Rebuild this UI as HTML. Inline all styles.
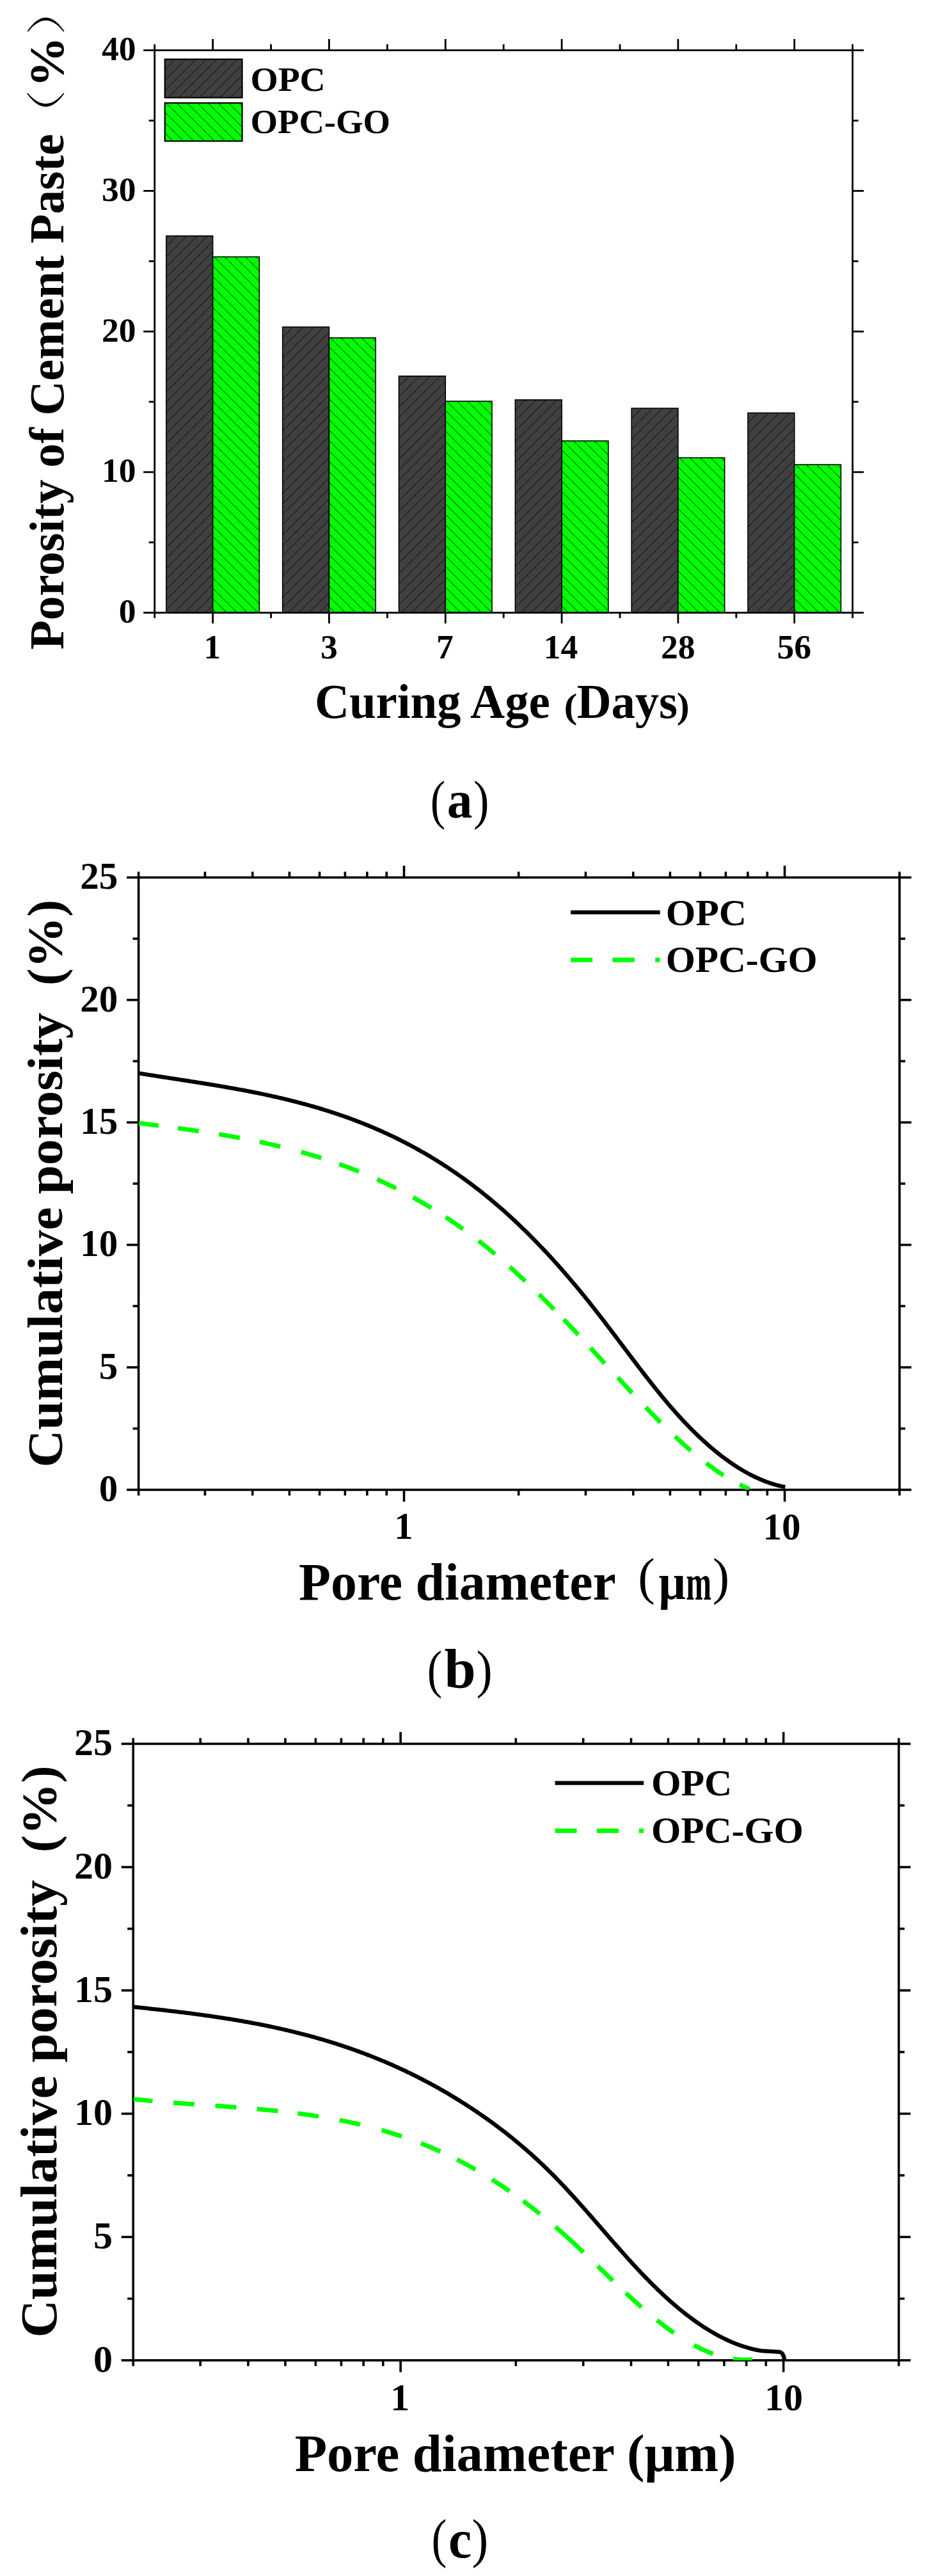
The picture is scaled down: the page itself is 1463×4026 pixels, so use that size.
<!DOCTYPE html>
<html><head><meta charset="utf-8"><title>Porosity charts</title>
<style>html,body{margin:0;padding:0;background:#fff;}body{width:1463px;height:4026px;overflow:hidden;font-family:"Liberation Serif",serif;}svg{display:block;}</style>
</head><body>
<svg width="1463" height="4026" viewBox="0 0 1463 4026" font-family="'Liberation Serif', serif">
<rect width="1463" height="4026" fill="#fff"/>
<clipPath id="c1"><rect x="259.88" y="368.67" width="72.73" height="588.93"/></clipPath>
<rect x="259.88" y="368.67" width="72.73" height="588.93" fill="#404040"/>
<path d="M259.88 368.67L-329.05 957.6 M276.13 368.67L-312.8 957.6 M292.38 368.67L-296.55 957.6 M308.63 368.67L-280.3 957.6 M324.88 368.67L-264.05 957.6 M341.13 368.67L-247.8 957.6 M357.38 368.67L-231.55 957.6 M373.63 368.67L-215.3 957.6 M389.88 368.67L-199.05 957.6 M406.13 368.67L-182.8 957.6 M422.38 368.67L-166.55 957.6 M438.63 368.67L-150.3 957.6 M454.88 368.67L-134.05 957.6 M471.13 368.67L-117.8 957.6 M487.38 368.67L-101.55 957.6 M503.63 368.67L-85.3 957.6 M519.88 368.67L-69.05 957.6 M536.13 368.67L-52.8 957.6 M552.38 368.67L-36.55 957.6 M568.63 368.67L-20.3 957.6 M584.88 368.67L-4.05 957.6 M601.13 368.67L12.2 957.6 M617.38 368.67L28.45 957.6 M633.63 368.67L44.7 957.6 M649.88 368.67L60.95 957.6 M666.13 368.67L77.2 957.6 M682.38 368.67L93.45 957.6 M698.63 368.67L109.7 957.6 M714.88 368.67L125.95 957.6 M731.13 368.67L142.2 957.6 M747.38 368.67L158.45 957.6 M763.63 368.67L174.7 957.6 M779.88 368.67L190.95 957.6 M796.13 368.67L207.2 957.6 M812.38 368.67L223.45 957.6 M828.63 368.67L239.7 957.6 M844.88 368.67L255.95 957.6 M861.13 368.67L272.2 957.6 M877.38 368.67L288.45 957.6 M893.63 368.67L304.7 957.6 M909.88 368.67L320.95 957.6" stroke="#000" stroke-width="0.9" clip-path="url(#c1)" fill="none"/>
<rect x="259.88" y="368.67" width="72.73" height="588.93" fill="none" stroke="#000" stroke-width="1.6"/>
<clipPath id="c2"><rect x="332.61" y="401.41" width="72.73" height="556.19"/></clipPath>
<rect x="332.61" y="401.41" width="72.73" height="556.19" fill="#00ff00"/>
<path d="M-217.89 401.41L338.3 957.6 M-201.64 401.41L354.55 957.6 M-185.39 401.41L370.8 957.6 M-169.14 401.41L387.05 957.6 M-152.89 401.41L403.3 957.6 M-136.64 401.41L419.55 957.6 M-120.39 401.41L435.8 957.6 M-104.14 401.41L452.05 957.6 M-87.89 401.41L468.3 957.6 M-71.64 401.41L484.55 957.6 M-55.39 401.41L500.8 957.6 M-39.14 401.41L517.05 957.6 M-22.89 401.41L533.3 957.6 M-6.64 401.41L549.55 957.6 M9.61 401.41L565.8 957.6 M25.86 401.41L582.05 957.6 M42.11 401.41L598.3 957.6 M58.36 401.41L614.55 957.6 M74.61 401.41L630.8 957.6 M90.86 401.41L647.05 957.6 M107.11 401.41L663.3 957.6 M123.36 401.41L679.55 957.6 M139.61 401.41L695.8 957.6 M155.86 401.41L712.05 957.6 M172.11 401.41L728.3 957.6 M188.36 401.41L744.55 957.6 M204.61 401.41L760.8 957.6 M220.86 401.41L777.05 957.6 M237.11 401.41L793.3 957.6 M253.36 401.41L809.55 957.6 M269.61 401.41L825.8 957.6 M285.86 401.41L842.05 957.6 M302.11 401.41L858.3 957.6 M318.36 401.41L874.55 957.6 M334.61 401.41L890.8 957.6 M350.86 401.41L907.05 957.6 M367.11 401.41L923.3 957.6 M383.36 401.41L939.55 957.6 M399.61 401.41L955.8 957.6" stroke="#000" stroke-width="0.9" clip-path="url(#c2)" fill="none"/>
<rect x="332.61" y="401.41" width="72.73" height="556.19" fill="none" stroke="#000" stroke-width="1.6"/>
<clipPath id="c3"><rect x="441.7" y="511.07" width="72.73" height="446.53"/></clipPath>
<rect x="441.7" y="511.07" width="72.73" height="446.53" fill="#404040"/>
<path d="M441.7 511.07L-4.83 957.6 M457.95 511.07L11.42 957.6 M474.2 511.07L27.67 957.6 M490.45 511.07L43.92 957.6 M506.7 511.07L60.17 957.6 M522.95 511.07L76.42 957.6 M539.2 511.07L92.67 957.6 M555.45 511.07L108.92 957.6 M571.7 511.07L125.17 957.6 M587.95 511.07L141.42 957.6 M604.2 511.07L157.67 957.6 M620.45 511.07L173.92 957.6 M636.7 511.07L190.17 957.6 M652.95 511.07L206.42 957.6 M669.2 511.07L222.67 957.6 M685.45 511.07L238.92 957.6 M701.7 511.07L255.17 957.6 M717.95 511.07L271.42 957.6 M734.2 511.07L287.67 957.6 M750.45 511.07L303.92 957.6 M766.7 511.07L320.17 957.6 M782.95 511.07L336.42 957.6 M799.2 511.07L352.67 957.6 M815.45 511.07L368.92 957.6 M831.7 511.07L385.17 957.6 M847.95 511.07L401.42 957.6 M864.2 511.07L417.67 957.6 M880.45 511.07L433.92 957.6 M896.7 511.07L450.17 957.6 M912.95 511.07L466.42 957.6 M929.2 511.07L482.67 957.6 M945.45 511.07L498.92 957.6 M961.7 511.07L515.17 957.6" stroke="#000" stroke-width="0.9" clip-path="url(#c3)" fill="none"/>
<rect x="441.7" y="511.07" width="72.73" height="446.53" fill="none" stroke="#000" stroke-width="1.6"/>
<clipPath id="c4"><rect x="514.42" y="527.99" width="72.73" height="429.61"/></clipPath>
<rect x="514.42" y="527.99" width="72.73" height="429.61" fill="#00ff00"/>
<path d="M93.92 527.99L523.54 957.6 M110.17 527.99L539.79 957.6 M126.42 527.99L556.04 957.6 M142.67 527.99L572.29 957.6 M158.92 527.99L588.54 957.6 M175.17 527.99L604.79 957.6 M191.42 527.99L621.04 957.6 M207.67 527.99L637.29 957.6 M223.92 527.99L653.54 957.6 M240.17 527.99L669.79 957.6 M256.42 527.99L686.04 957.6 M272.67 527.99L702.29 957.6 M288.92 527.99L718.54 957.6 M305.17 527.99L734.79 957.6 M321.42 527.99L751.04 957.6 M337.67 527.99L767.29 957.6 M353.92 527.99L783.54 957.6 M370.17 527.99L799.79 957.6 M386.42 527.99L816.04 957.6 M402.67 527.99L832.29 957.6 M418.92 527.99L848.54 957.6 M435.17 527.99L864.79 957.6 M451.42 527.99L881.04 957.6 M467.67 527.99L897.29 957.6 M483.92 527.99L913.54 957.6 M500.17 527.99L929.79 957.6 M516.42 527.99L946.04 957.6 M532.67 527.99L962.29 957.6 M548.92 527.99L978.54 957.6 M565.17 527.99L994.79 957.6 M581.42 527.99L1011.04 957.6" stroke="#000" stroke-width="0.9" clip-path="url(#c4)" fill="none"/>
<rect x="514.42" y="527.99" width="72.73" height="429.61" fill="none" stroke="#000" stroke-width="1.6"/>
<clipPath id="c5"><rect x="623.51" y="587.76" width="72.73" height="369.84"/></clipPath>
<rect x="623.51" y="587.76" width="72.73" height="369.84" fill="#404040"/>
<path d="M623.51 587.76L253.68 957.6 M639.76 587.76L269.93 957.6 M656.01 587.76L286.18 957.6 M672.26 587.76L302.43 957.6 M688.51 587.76L318.68 957.6 M704.76 587.76L334.93 957.6 M721.01 587.76L351.18 957.6 M737.26 587.76L367.43 957.6 M753.51 587.76L383.68 957.6 M769.76 587.76L399.93 957.6 M786.01 587.76L416.18 957.6 M802.26 587.76L432.43 957.6 M818.51 587.76L448.68 957.6 M834.76 587.76L464.93 957.6 M851.01 587.76L481.18 957.6 M867.26 587.76L497.43 957.6 M883.51 587.76L513.68 957.6 M899.76 587.76L529.93 957.6 M916.01 587.76L546.18 957.6 M932.26 587.76L562.43 957.6 M948.51 587.76L578.68 957.6 M964.76 587.76L594.93 957.6 M981.01 587.76L611.18 957.6 M997.26 587.76L627.43 957.6 M1013.51 587.76L643.68 957.6 M1029.76 587.76L659.93 957.6 M1046.01 587.76L676.18 957.6 M1062.26 587.76L692.43 957.6" stroke="#000" stroke-width="0.9" clip-path="url(#c5)" fill="none"/>
<rect x="623.51" y="587.76" width="72.73" height="369.84" fill="none" stroke="#000" stroke-width="1.6"/>
<clipPath id="c6"><rect x="696.24" y="627.1" width="72.73" height="330.5"/></clipPath>
<rect x="696.24" y="627.1" width="72.73" height="330.5" fill="#00ff00"/>
<path d="M373.24 627.1L703.75 957.6 M389.49 627.1L720 957.6 M405.74 627.1L736.25 957.6 M421.99 627.1L752.5 957.6 M438.24 627.1L768.75 957.6 M454.49 627.1L785 957.6 M470.74 627.1L801.25 957.6 M486.99 627.1L817.5 957.6 M503.24 627.1L833.75 957.6 M519.49 627.1L850 957.6 M535.74 627.1L866.25 957.6 M551.99 627.1L882.5 957.6 M568.24 627.1L898.75 957.6 M584.49 627.1L915 957.6 M600.74 627.1L931.25 957.6 M616.99 627.1L947.5 957.6 M633.24 627.1L963.75 957.6 M649.49 627.1L980 957.6 M665.74 627.1L996.25 957.6 M681.99 627.1L1012.5 957.6 M698.24 627.1L1028.75 957.6 M714.49 627.1L1045 957.6 M730.74 627.1L1061.25 957.6 M746.99 627.1L1077.5 957.6 M763.24 627.1L1093.75 957.6" stroke="#000" stroke-width="0.9" clip-path="url(#c6)" fill="none"/>
<rect x="696.24" y="627.1" width="72.73" height="330.5" fill="none" stroke="#000" stroke-width="1.6"/>
<clipPath id="c7"><rect x="805.33" y="624.9" width="72.73" height="332.7"/></clipPath>
<rect x="805.33" y="624.9" width="72.73" height="332.7" fill="#404040"/>
<path d="M805.33 624.9L472.63 957.6 M821.58 624.9L488.88 957.6 M837.83 624.9L505.13 957.6 M854.08 624.9L521.38 957.6 M870.33 624.9L537.63 957.6 M886.58 624.9L553.88 957.6 M902.83 624.9L570.13 957.6 M919.08 624.9L586.38 957.6 M935.33 624.9L602.63 957.6 M951.58 624.9L618.88 957.6 M967.83 624.9L635.13 957.6 M984.08 624.9L651.38 957.6 M1000.33 624.9L667.63 957.6 M1016.58 624.9L683.88 957.6 M1032.83 624.9L700.13 957.6 M1049.08 624.9L716.38 957.6 M1065.33 624.9L732.63 957.6 M1081.58 624.9L748.88 957.6 M1097.83 624.9L765.13 957.6 M1114.08 624.9L781.38 957.6 M1130.33 624.9L797.63 957.6 M1146.58 624.9L813.88 957.6 M1162.83 624.9L830.13 957.6 M1179.08 624.9L846.38 957.6 M1195.33 624.9L862.63 957.6 M1211.58 624.9L878.88 957.6" stroke="#000" stroke-width="0.9" clip-path="url(#c7)" fill="none"/>
<rect x="805.33" y="624.9" width="72.73" height="332.7" fill="none" stroke="#000" stroke-width="1.6"/>
<clipPath id="c8"><rect x="878.06" y="689.07" width="72.73" height="268.53"/></clipPath>
<rect x="878.06" y="689.07" width="72.73" height="268.53" fill="#00ff00"/>
<path d="M620.06 689.07L888.59 957.6 M636.31 689.07L904.84 957.6 M652.56 689.07L921.09 957.6 M668.81 689.07L937.34 957.6 M685.06 689.07L953.59 957.6 M701.31 689.07L969.84 957.6 M717.56 689.07L986.09 957.6 M733.81 689.07L1002.34 957.6 M750.06 689.07L1018.59 957.6 M766.31 689.07L1034.84 957.6 M782.56 689.07L1051.09 957.6 M798.81 689.07L1067.34 957.6 M815.06 689.07L1083.59 957.6 M831.31 689.07L1099.84 957.6 M847.56 689.07L1116.09 957.6 M863.81 689.07L1132.34 957.6 M880.06 689.07L1148.59 957.6 M896.31 689.07L1164.84 957.6 M912.56 689.07L1181.09 957.6 M928.81 689.07L1197.34 957.6 M945.06 689.07L1213.59 957.6" stroke="#000" stroke-width="0.9" clip-path="url(#c8)" fill="none"/>
<rect x="878.06" y="689.07" width="72.73" height="268.53" fill="none" stroke="#000" stroke-width="1.6"/>
<clipPath id="c9"><rect x="987.15" y="638.08" width="72.73" height="319.52"/></clipPath>
<rect x="987.15" y="638.08" width="72.73" height="319.52" fill="#404040"/>
<path d="M987.15 638.08L667.63 957.6 M1003.4 638.08L683.88 957.6 M1019.65 638.08L700.13 957.6 M1035.9 638.08L716.38 957.6 M1052.15 638.08L732.63 957.6 M1068.4 638.08L748.88 957.6 M1084.65 638.08L765.13 957.6 M1100.9 638.08L781.38 957.6 M1117.15 638.08L797.63 957.6 M1133.4 638.08L813.88 957.6 M1149.65 638.08L830.13 957.6 M1165.9 638.08L846.38 957.6 M1182.15 638.08L862.63 957.6 M1198.4 638.08L878.88 957.6 M1214.65 638.08L895.13 957.6 M1230.9 638.08L911.38 957.6 M1247.15 638.08L927.63 957.6 M1263.4 638.08L943.88 957.6 M1279.65 638.08L960.13 957.6 M1295.9 638.08L976.38 957.6 M1312.15 638.08L992.63 957.6 M1328.4 638.08L1008.88 957.6 M1344.65 638.08L1025.13 957.6 M1360.9 638.08L1041.38 957.6 M1377.15 638.08L1057.63 957.6" stroke="#000" stroke-width="0.9" clip-path="url(#c9)" fill="none"/>
<rect x="987.15" y="638.08" width="72.73" height="319.52" fill="none" stroke="#000" stroke-width="1.6"/>
<clipPath id="c10"><rect x="1059.87" y="715.44" width="72.73" height="242.16"/></clipPath>
<rect x="1059.87" y="715.44" width="72.73" height="242.16" fill="#00ff00"/>
<path d="M818.12 715.44L1060.29 957.6 M834.37 715.44L1076.54 957.6 M850.62 715.44L1092.79 957.6 M866.87 715.44L1109.04 957.6 M883.12 715.44L1125.29 957.6 M899.37 715.44L1141.54 957.6 M915.62 715.44L1157.79 957.6 M931.87 715.44L1174.04 957.6 M948.12 715.44L1190.29 957.6 M964.37 715.44L1206.54 957.6 M980.62 715.44L1222.79 957.6 M996.87 715.44L1239.04 957.6 M1013.12 715.44L1255.29 957.6 M1029.37 715.44L1271.54 957.6 M1045.62 715.44L1287.79 957.6 M1061.87 715.44L1304.04 957.6 M1078.12 715.44L1320.29 957.6 M1094.37 715.44L1336.54 957.6 M1110.62 715.44L1352.79 957.6 M1126.87 715.44L1369.04 957.6" stroke="#000" stroke-width="0.9" clip-path="url(#c10)" fill="none"/>
<rect x="1059.87" y="715.44" width="72.73" height="242.16" fill="none" stroke="#000" stroke-width="1.6"/>
<clipPath id="c11"><rect x="1168.96" y="645.34" width="72.73" height="312.26"/></clipPath>
<rect x="1168.96" y="645.34" width="72.73" height="312.26" fill="#404040"/>
<path d="M1168.96 645.34L856.7 957.6 M1185.21 645.34L872.95 957.6 M1201.46 645.34L889.2 957.6 M1217.71 645.34L905.45 957.6 M1233.96 645.34L921.7 957.6 M1250.21 645.34L937.95 957.6 M1266.46 645.34L954.2 957.6 M1282.71 645.34L970.45 957.6 M1298.96 645.34L986.7 957.6 M1315.21 645.34L1002.95 957.6 M1331.46 645.34L1019.2 957.6 M1347.71 645.34L1035.45 957.6 M1363.96 645.34L1051.7 957.6 M1380.21 645.34L1067.95 957.6 M1396.46 645.34L1084.2 957.6 M1412.71 645.34L1100.45 957.6 M1428.96 645.34L1116.7 957.6 M1445.21 645.34L1132.95 957.6 M1461.46 645.34L1149.2 957.6 M1477.71 645.34L1165.45 957.6 M1493.96 645.34L1181.7 957.6 M1510.21 645.34L1197.95 957.6 M1526.46 645.34L1214.2 957.6 M1542.71 645.34L1230.45 957.6" stroke="#000" stroke-width="0.9" clip-path="url(#c11)" fill="none"/>
<rect x="1168.96" y="645.34" width="72.73" height="312.26" fill="none" stroke="#000" stroke-width="1.6"/>
<clipPath id="c12"><rect x="1241.69" y="726.2" width="72.73" height="231.4"/></clipPath>
<rect x="1241.69" y="726.2" width="72.73" height="231.4" fill="#00ff00"/>
<path d="M1016.19 726.2L1247.59 957.6 M1032.44 726.2L1263.84 957.6 M1048.69 726.2L1280.09 957.6 M1064.94 726.2L1296.34 957.6 M1081.19 726.2L1312.59 957.6 M1097.44 726.2L1328.84 957.6 M1113.69 726.2L1345.09 957.6 M1129.94 726.2L1361.34 957.6 M1146.19 726.2L1377.59 957.6 M1162.44 726.2L1393.84 957.6 M1178.69 726.2L1410.09 957.6 M1194.94 726.2L1426.34 957.6 M1211.19 726.2L1442.59 957.6 M1227.44 726.2L1458.84 957.6 M1243.69 726.2L1475.09 957.6 M1259.94 726.2L1491.34 957.6 M1276.19 726.2L1507.59 957.6 M1292.44 726.2L1523.84 957.6 M1308.69 726.2L1540.09 957.6" stroke="#000" stroke-width="0.9" clip-path="url(#c12)" fill="none"/>
<rect x="1241.69" y="726.2" width="72.73" height="231.4" fill="none" stroke="#000" stroke-width="1.6"/>
<rect x="241.7" y="78.6" width="1090.9" height="879" fill="none" stroke="#000" stroke-width="2.8"/>
<line x1="224.2" y1="957.6" x2="241.7" y2="957.6" stroke="#000" stroke-width="2.8"/>
<line x1="1332.6" y1="957.6" x2="1350.1" y2="957.6" stroke="#000" stroke-width="2.8"/>
<line x1="232.7" y1="847.73" x2="241.7" y2="847.73" stroke="#000" stroke-width="2.8"/>
<line x1="1332.6" y1="847.73" x2="1341.6" y2="847.73" stroke="#000" stroke-width="2.8"/>
<line x1="224.2" y1="737.85" x2="241.7" y2="737.85" stroke="#000" stroke-width="2.8"/>
<line x1="1332.6" y1="737.85" x2="1350.1" y2="737.85" stroke="#000" stroke-width="2.8"/>
<line x1="232.7" y1="627.98" x2="241.7" y2="627.98" stroke="#000" stroke-width="2.8"/>
<line x1="1332.6" y1="627.98" x2="1341.6" y2="627.98" stroke="#000" stroke-width="2.8"/>
<line x1="224.2" y1="518.1" x2="241.7" y2="518.1" stroke="#000" stroke-width="2.8"/>
<line x1="1332.6" y1="518.1" x2="1350.1" y2="518.1" stroke="#000" stroke-width="2.8"/>
<line x1="232.7" y1="408.23" x2="241.7" y2="408.23" stroke="#000" stroke-width="2.8"/>
<line x1="1332.6" y1="408.23" x2="1341.6" y2="408.23" stroke="#000" stroke-width="2.8"/>
<line x1="224.2" y1="298.35" x2="241.7" y2="298.35" stroke="#000" stroke-width="2.8"/>
<line x1="1332.6" y1="298.35" x2="1350.1" y2="298.35" stroke="#000" stroke-width="2.8"/>
<line x1="232.7" y1="188.48" x2="241.7" y2="188.48" stroke="#000" stroke-width="2.8"/>
<line x1="1332.6" y1="188.48" x2="1341.6" y2="188.48" stroke="#000" stroke-width="2.8"/>
<line x1="224.2" y1="78.6" x2="241.7" y2="78.6" stroke="#000" stroke-width="2.8"/>
<line x1="1332.6" y1="78.6" x2="1350.1" y2="78.6" stroke="#000" stroke-width="2.8"/>
<line x1="241.7" y1="957.6" x2="241.7" y2="966.1" stroke="#000" stroke-width="2.8"/>
<line x1="241.7" y1="78.6" x2="241.7" y2="69.2" stroke="#000" stroke-width="2.8"/>
<line x1="423.52" y1="957.6" x2="423.52" y2="966.1" stroke="#000" stroke-width="2.8"/>
<line x1="423.52" y1="78.6" x2="423.52" y2="69.2" stroke="#000" stroke-width="2.8"/>
<line x1="605.33" y1="957.6" x2="605.33" y2="966.1" stroke="#000" stroke-width="2.8"/>
<line x1="605.33" y1="78.6" x2="605.33" y2="69.2" stroke="#000" stroke-width="2.8"/>
<line x1="787.15" y1="957.6" x2="787.15" y2="966.1" stroke="#000" stroke-width="2.8"/>
<line x1="787.15" y1="78.6" x2="787.15" y2="69.2" stroke="#000" stroke-width="2.8"/>
<line x1="968.97" y1="957.6" x2="968.97" y2="966.1" stroke="#000" stroke-width="2.8"/>
<line x1="968.97" y1="78.6" x2="968.97" y2="69.2" stroke="#000" stroke-width="2.8"/>
<line x1="1150.78" y1="957.6" x2="1150.78" y2="966.1" stroke="#000" stroke-width="2.8"/>
<line x1="1150.78" y1="78.6" x2="1150.78" y2="69.2" stroke="#000" stroke-width="2.8"/>
<line x1="1332.6" y1="957.6" x2="1332.6" y2="966.1" stroke="#000" stroke-width="2.8"/>
<line x1="1332.6" y1="78.6" x2="1332.6" y2="69.2" stroke="#000" stroke-width="2.8"/>
<line x1="332.61" y1="957.6" x2="332.61" y2="974.4" stroke="#000" stroke-width="2.8"/>
<line x1="332.61" y1="78.6" x2="332.61" y2="61" stroke="#000" stroke-width="2.8"/>
<line x1="514.42" y1="957.6" x2="514.42" y2="974.4" stroke="#000" stroke-width="2.8"/>
<line x1="514.42" y1="78.6" x2="514.42" y2="61" stroke="#000" stroke-width="2.8"/>
<line x1="696.24" y1="957.6" x2="696.24" y2="974.4" stroke="#000" stroke-width="2.8"/>
<line x1="696.24" y1="78.6" x2="696.24" y2="61" stroke="#000" stroke-width="2.8"/>
<line x1="878.06" y1="957.6" x2="878.06" y2="974.4" stroke="#000" stroke-width="2.8"/>
<line x1="878.06" y1="78.6" x2="878.06" y2="61" stroke="#000" stroke-width="2.8"/>
<line x1="1059.87" y1="957.6" x2="1059.87" y2="974.4" stroke="#000" stroke-width="2.8"/>
<line x1="1059.87" y1="78.6" x2="1059.87" y2="61" stroke="#000" stroke-width="2.8"/>
<line x1="1241.69" y1="957.6" x2="1241.69" y2="974.4" stroke="#000" stroke-width="2.8"/>
<line x1="1241.69" y1="78.6" x2="1241.69" y2="61" stroke="#000" stroke-width="2.8"/>
<clipPath id="c13"><rect x="257.7" y="92.6" width="120.8" height="60"/></clipPath>
<rect x="257.7" y="92.6" width="120.8" height="60" fill="#404040"/>
<path d="M257.7 92.6L197.7 152.6 M273.95 92.6L213.95 152.6 M290.2 92.6L230.2 152.6 M306.45 92.6L246.45 152.6 M322.7 92.6L262.7 152.6 M338.95 92.6L278.95 152.6 M355.2 92.6L295.2 152.6 M371.45 92.6L311.45 152.6 M387.7 92.6L327.7 152.6 M403.95 92.6L343.95 152.6 M420.2 92.6L360.2 152.6 M436.45 92.6L376.45 152.6" stroke="#000" stroke-width="0.9" clip-path="url(#c13)" fill="none"/>
<rect x="257.7" y="92.6" width="120.8" height="60" fill="none" stroke="#000" stroke-width="2.2"/>
<clipPath id="c14"><rect x="257.7" y="160.9" width="120.8" height="59.6"/></clipPath>
<rect x="257.7" y="160.9" width="120.8" height="59.6" fill="#00ff00"/>
<path d="M210.95 160.9L270.55 220.5 M227.2 160.9L286.8 220.5 M243.45 160.9L303.05 220.5 M259.7 160.9L319.3 220.5 M275.95 160.9L335.55 220.5 M292.2 160.9L351.8 220.5 M308.45 160.9L368.05 220.5 M324.7 160.9L384.3 220.5 M340.95 160.9L400.55 220.5 M357.2 160.9L416.8 220.5 M373.45 160.9L433.05 220.5" stroke="#000" stroke-width="0.9" clip-path="url(#c14)" fill="none"/>
<rect x="257.7" y="160.9" width="120.8" height="59.6" fill="none" stroke="#000" stroke-width="2.2"/>
<path d="M42.2 146.2 Q71.4 187.2 100.5 146.2 L99.3 145.2 Q71.4 178.8 43.4 145.2Z" fill="#000"/>
<path d="M42.7 48.7 Q71.6 6.5 100.5 48.7 L99.3 49.7 Q71.6 14.5 43.9 49.7Z" fill="#000"/>
<rect x="216.6" y="1371.4" width="1189.4" height="957" fill="none" stroke="#000" stroke-width="3.6"/>
<line x1="198.1" y1="2328.4" x2="216.6" y2="2328.4" stroke="#000" stroke-width="3.6"/>
<line x1="1406" y1="2328.4" x2="1424.5" y2="2328.4" stroke="#000" stroke-width="3.6"/>
<line x1="207.6" y1="2232.7" x2="216.6" y2="2232.7" stroke="#000" stroke-width="3.6"/>
<line x1="1406" y1="2232.7" x2="1415" y2="2232.7" stroke="#000" stroke-width="3.6"/>
<line x1="198.1" y1="2137" x2="216.6" y2="2137" stroke="#000" stroke-width="3.6"/>
<line x1="1406" y1="2137" x2="1424.5" y2="2137" stroke="#000" stroke-width="3.6"/>
<line x1="207.6" y1="2041.3" x2="216.6" y2="2041.3" stroke="#000" stroke-width="3.6"/>
<line x1="1406" y1="2041.3" x2="1415" y2="2041.3" stroke="#000" stroke-width="3.6"/>
<line x1="198.1" y1="1945.6" x2="216.6" y2="1945.6" stroke="#000" stroke-width="3.6"/>
<line x1="1406" y1="1945.6" x2="1424.5" y2="1945.6" stroke="#000" stroke-width="3.6"/>
<line x1="207.6" y1="1849.9" x2="216.6" y2="1849.9" stroke="#000" stroke-width="3.6"/>
<line x1="1406" y1="1849.9" x2="1415" y2="1849.9" stroke="#000" stroke-width="3.6"/>
<line x1="198.1" y1="1754.2" x2="216.6" y2="1754.2" stroke="#000" stroke-width="3.6"/>
<line x1="1406" y1="1754.2" x2="1424.5" y2="1754.2" stroke="#000" stroke-width="3.6"/>
<line x1="207.6" y1="1658.5" x2="216.6" y2="1658.5" stroke="#000" stroke-width="3.6"/>
<line x1="1406" y1="1658.5" x2="1415" y2="1658.5" stroke="#000" stroke-width="3.6"/>
<line x1="198.1" y1="1562.8" x2="216.6" y2="1562.8" stroke="#000" stroke-width="3.6"/>
<line x1="1406" y1="1562.8" x2="1424.5" y2="1562.8" stroke="#000" stroke-width="3.6"/>
<line x1="207.6" y1="1467.1" x2="216.6" y2="1467.1" stroke="#000" stroke-width="3.6"/>
<line x1="1406" y1="1467.1" x2="1415" y2="1467.1" stroke="#000" stroke-width="3.6"/>
<line x1="198.1" y1="1371.4" x2="216.6" y2="1371.4" stroke="#000" stroke-width="3.6"/>
<line x1="1406" y1="1371.4" x2="1424.5" y2="1371.4" stroke="#000" stroke-width="3.6"/>
<line x1="216.6" y1="2328.4" x2="216.6" y2="2337.4" stroke="#000" stroke-width="3.6"/>
<line x1="216.6" y1="1371.4" x2="216.6" y2="1362.4" stroke="#000" stroke-width="3.6"/>
<line x1="320.39" y1="2328.4" x2="320.39" y2="2337.4" stroke="#000" stroke-width="3.6"/>
<line x1="320.39" y1="1371.4" x2="320.39" y2="1362.4" stroke="#000" stroke-width="3.6"/>
<line x1="394.73" y1="2328.4" x2="394.73" y2="2337.4" stroke="#000" stroke-width="3.6"/>
<line x1="394.73" y1="1371.4" x2="394.73" y2="1362.4" stroke="#000" stroke-width="3.6"/>
<line x1="452.39" y1="2328.4" x2="452.39" y2="2337.4" stroke="#000" stroke-width="3.6"/>
<line x1="452.39" y1="1371.4" x2="452.39" y2="1362.4" stroke="#000" stroke-width="3.6"/>
<line x1="499.5" y1="2328.4" x2="499.5" y2="2337.4" stroke="#000" stroke-width="3.6"/>
<line x1="499.5" y1="1371.4" x2="499.5" y2="1362.4" stroke="#000" stroke-width="3.6"/>
<line x1="539.33" y1="2328.4" x2="539.33" y2="2337.4" stroke="#000" stroke-width="3.6"/>
<line x1="539.33" y1="1371.4" x2="539.33" y2="1362.4" stroke="#000" stroke-width="3.6"/>
<line x1="573.84" y1="2328.4" x2="573.84" y2="2337.4" stroke="#000" stroke-width="3.6"/>
<line x1="573.84" y1="1371.4" x2="573.84" y2="1362.4" stroke="#000" stroke-width="3.6"/>
<line x1="604.27" y1="2328.4" x2="604.27" y2="2337.4" stroke="#000" stroke-width="3.6"/>
<line x1="604.27" y1="1371.4" x2="604.27" y2="1362.4" stroke="#000" stroke-width="3.6"/>
<line x1="631.5" y1="2328.4" x2="631.5" y2="2346.9" stroke="#000" stroke-width="3.6"/>
<line x1="631.5" y1="1371.4" x2="631.5" y2="1352.9" stroke="#000" stroke-width="3.6"/>
<line x1="810.61" y1="2328.4" x2="810.61" y2="2337.4" stroke="#000" stroke-width="3.6"/>
<line x1="810.61" y1="1371.4" x2="810.61" y2="1362.4" stroke="#000" stroke-width="3.6"/>
<line x1="915.39" y1="2328.4" x2="915.39" y2="2337.4" stroke="#000" stroke-width="3.6"/>
<line x1="915.39" y1="1371.4" x2="915.39" y2="1362.4" stroke="#000" stroke-width="3.6"/>
<line x1="989.73" y1="2328.4" x2="989.73" y2="2337.4" stroke="#000" stroke-width="3.6"/>
<line x1="989.73" y1="1371.4" x2="989.73" y2="1362.4" stroke="#000" stroke-width="3.6"/>
<line x1="1047.39" y1="2328.4" x2="1047.39" y2="2337.4" stroke="#000" stroke-width="3.6"/>
<line x1="1047.39" y1="1371.4" x2="1047.39" y2="1362.4" stroke="#000" stroke-width="3.6"/>
<line x1="1094.5" y1="2328.4" x2="1094.5" y2="2337.4" stroke="#000" stroke-width="3.6"/>
<line x1="1094.5" y1="1371.4" x2="1094.5" y2="1362.4" stroke="#000" stroke-width="3.6"/>
<line x1="1134.33" y1="2328.4" x2="1134.33" y2="2337.4" stroke="#000" stroke-width="3.6"/>
<line x1="1134.33" y1="1371.4" x2="1134.33" y2="1362.4" stroke="#000" stroke-width="3.6"/>
<line x1="1168.84" y1="2328.4" x2="1168.84" y2="2337.4" stroke="#000" stroke-width="3.6"/>
<line x1="1168.84" y1="1371.4" x2="1168.84" y2="1362.4" stroke="#000" stroke-width="3.6"/>
<line x1="1199.27" y1="2328.4" x2="1199.27" y2="2337.4" stroke="#000" stroke-width="3.6"/>
<line x1="1199.27" y1="1371.4" x2="1199.27" y2="1362.4" stroke="#000" stroke-width="3.6"/>
<line x1="1226.5" y1="2328.4" x2="1226.5" y2="2346.9" stroke="#000" stroke-width="3.6"/>
<line x1="1226.5" y1="1371.4" x2="1226.5" y2="1352.9" stroke="#000" stroke-width="3.6"/>
<line x1="1406" y1="2328.4" x2="1406" y2="2337.4" stroke="#000" stroke-width="3.6"/>
<line x1="1406" y1="1371.4" x2="1406" y2="1362.4" stroke="#000" stroke-width="3.6"/>
<clipPath id="p15"><rect x="216.6" y="1371.4" width="1189.4" height="957"/></clipPath>
<g clip-path="url(#p15)">
<path d="M217 1677.35 L219.53 1677.76 L222.06 1678.17 L224.6 1678.57 L227.13 1678.98 L229.66 1679.38 L232.19 1679.78 L234.72 1680.18 L237.26 1680.58 L239.79 1680.97 L242.32 1681.37 L244.85 1681.76 L247.38 1682.16 L249.92 1682.55 L252.45 1682.94 L254.98 1683.34 L257.51 1683.73 L260.05 1684.12 L262.58 1684.51 L265.11 1684.9 L267.64 1685.29 L270.17 1685.68 L272.71 1686.07 L275.24 1686.46 L277.77 1686.86 L280.3 1687.25 L282.83 1687.64 L285.37 1688.03 L287.9 1688.42 L290.43 1688.82 L292.96 1689.21 L295.49 1689.61 L298.03 1690 L300.56 1690.4 L303.09 1690.8 L305.62 1691.2 L308.15 1691.6 L310.69 1692 L313.22 1692.41 L315.75 1692.81 L318.28 1693.22 L320.82 1693.63 L323.35 1694.04 L325.88 1694.45 L328.41 1694.87 L330.94 1695.28 L333.48 1695.7 L336.01 1696.12 L338.54 1696.55 L341.07 1696.97 L343.6 1697.4 L346.14 1697.83 L348.67 1698.27 L351.2 1698.7 L353.73 1699.14 L356.26 1699.59 L358.8 1700.03 L361.33 1700.48 L363.86 1700.93 L366.39 1701.39 L368.92 1701.85 L371.46 1702.31 L373.99 1702.78 L376.52 1703.25 L379.05 1703.72 L381.59 1704.2 L384.12 1704.68 L386.65 1705.16 L389.18 1705.65 L391.71 1706.15 L394.25 1706.64 L396.78 1707.15 L399.31 1707.65 L401.84 1708.16 L404.37 1708.68 L406.91 1709.2 L409.44 1709.73 L411.97 1710.26 L414.5 1710.79 L417.03 1711.33 L419.57 1711.88 L422.1 1712.43 L424.63 1712.99 L427.16 1713.55 L429.69 1714.12 L432.23 1714.69 L434.76 1715.27 L437.29 1715.85 L439.82 1716.44 L442.36 1717.04 L444.89 1717.64 L447.42 1718.25 L449.95 1718.87 L452.48 1719.49 L455.02 1720.12 L457.55 1720.75 L460.08 1721.39 L462.61 1722.04 L465.14 1722.69 L467.68 1723.35 L470.21 1724.02 L472.74 1724.7 L475.27 1725.38 L477.8 1726.07 L480.34 1726.76 L482.87 1727.47 L485.4 1728.18 L487.93 1728.9 L490.46 1729.63 L493 1730.36 L495.53 1731.1 L498.06 1731.85 L500.59 1732.61 L503.13 1733.38 L505.66 1734.15 L508.19 1734.94 L510.72 1735.73 L513.25 1736.53 L515.79 1737.34 L518.32 1738.15 L520.85 1738.98 L523.38 1739.81 L525.91 1740.66 L528.45 1741.51 L530.98 1742.37 L533.51 1743.24 L536.04 1744.12 L538.57 1745.01 L541.11 1745.91 L543.64 1746.82 L546.17 1747.74 L548.7 1748.66 L551.23 1749.6 L553.77 1750.55 L556.3 1751.5 L558.83 1752.47 L561.36 1753.45 L563.89 1754.44 L566.43 1755.43 L568.96 1756.44 L571.49 1757.46 L574.02 1758.49 L576.56 1759.53 L579.09 1760.58 L581.62 1761.64 L584.15 1762.71 L586.68 1763.8 L589.22 1764.89 L591.75 1766 L594.28 1767.11 L596.81 1768.24 L599.34 1769.38 L601.88 1770.53 L604.41 1771.7 L606.94 1772.87 L609.47 1774.06 L612 1775.25 L614.54 1776.46 L617.07 1777.69 L619.6 1778.92 L622.13 1780.17 L624.66 1781.43 L627.2 1782.7 L629.73 1783.98 L632.26 1785.28 L634.79 1786.59 L637.33 1787.91 L639.86 1789.25 L642.39 1790.59 L644.92 1791.96 L647.45 1793.33 L649.99 1794.72 L652.52 1796.12 L655.05 1797.53 L657.58 1798.96 L660.11 1800.4 L662.65 1801.85 L665.18 1803.32 L667.71 1804.81 L670.24 1806.3 L672.77 1807.81 L675.31 1809.34 L677.84 1810.87 L680.37 1812.43 L682.9 1814 L685.43 1815.58 L687.97 1817.17 L690.5 1818.78 L693.03 1820.41 L695.56 1822.05 L698.1 1823.7 L700.63 1825.38 L703.16 1827.06 L705.69 1828.76 L708.22 1830.48 L710.76 1832.21 L713.29 1833.95 L715.82 1835.72 L718.35 1837.49 L720.88 1839.29 L723.42 1841.1 L725.95 1842.92 L728.48 1844.76 L731.01 1846.62 L733.54 1848.49 L736.08 1850.38 L738.61 1852.29 L741.14 1854.21 L743.67 1856.15 L746.2 1858.1 L748.74 1860.07 L751.27 1862.06 L753.8 1864.07 L756.33 1866.09 L758.87 1868.13 L761.4 1870.19 L763.93 1872.26 L766.46 1874.35 L768.99 1876.46 L771.53 1878.58 L774.06 1880.73 L776.59 1882.89 L779.12 1885.07 L781.65 1887.26 L784.19 1889.48 L786.72 1891.71 L789.25 1893.96 L791.78 1896.23 L794.31 1898.51 L796.85 1900.82 L799.38 1903.14 L801.91 1905.48 L804.44 1907.83 L806.97 1910.21 L809.51 1912.6 L812.04 1915.01 L814.57 1917.44 L817.1 1919.89 L819.64 1922.35 L822.17 1924.83 L824.7 1927.33 L827.23 1929.85 L829.76 1932.38 L832.3 1934.93 L834.83 1937.5 L837.36 1940.09 L839.89 1942.7 L842.42 1945.32 L844.96 1947.96 L847.49 1950.62 L850.02 1953.29 L852.55 1955.98 L855.08 1958.69 L857.62 1961.42 L860.15 1964.17 L862.68 1966.93 L865.21 1969.71 L867.74 1972.51 L870.28 1975.32 L872.81 1978.16 L875.34 1981.01 L877.87 1983.87 L880.41 1986.76 L882.94 1989.66 L885.47 1992.58 L888 1995.52 L890.53 1998.47 L893.07 2001.44 L895.6 2004.43 L898.13 2007.44 L900.66 2010.46 L903.19 2013.5 L905.73 2016.56 L908.26 2019.63 L910.79 2022.73 L913.32 2025.83 L915.85 2028.96 L918.39 2032.11 L920.92 2035.27 L923.45 2038.44 L925.98 2041.64 L928.51 2044.85 L931.05 2048.08 L933.58 2051.32 L936.11 2054.58 L938.64 2057.85 L941.17 2061.13 L943.71 2064.43 L946.24 2067.73 L948.77 2071.05 L951.3 2074.37 L953.84 2077.7 L956.37 2081.04 L958.9 2084.38 L961.43 2087.73 L963.96 2091.08 L966.5 2094.43 L969.03 2097.79 L971.56 2101.15 L974.09 2104.51 L976.62 2107.86 L979.16 2111.22 L981.69 2114.57 L984.22 2117.92 L986.75 2121.26 L989.28 2124.6 L991.82 2127.93 L994.35 2131.26 L996.88 2134.57 L999.41 2137.88 L1001.94 2141.18 L1004.48 2144.46 L1007.01 2147.73 L1009.54 2151 L1012.07 2154.24 L1014.61 2157.47 L1017.14 2160.69 L1019.67 2163.89 L1022.2 2167.07 L1024.73 2170.23 L1027.27 2173.38 L1029.8 2176.5 L1032.33 2179.6 L1034.86 2182.68 L1037.39 2185.73 L1039.93 2188.76 L1042.46 2191.77 L1044.99 2194.75 L1047.52 2197.7 L1050.05 2200.63 L1052.59 2203.52 L1055.12 2206.39 L1057.65 2209.23 L1060.18 2212.04 L1062.71 2214.82 L1065.25 2217.57 L1067.78 2220.29 L1070.31 2222.98 L1072.84 2225.63 L1075.38 2228.26 L1077.91 2230.86 L1080.44 2233.43 L1082.97 2235.97 L1085.5 2238.47 L1088.04 2240.95 L1090.57 2243.39 L1093.1 2245.8 L1095.63 2248.18 L1098.16 2250.53 L1100.7 2252.85 L1103.23 2255.13 L1105.76 2257.39 L1108.29 2259.6 L1110.82 2261.79 L1113.36 2263.94 L1115.89 2266.07 L1118.42 2268.15 L1120.95 2270.21 L1123.48 2272.23 L1126.02 2274.21 L1128.55 2276.17 L1131.08 2278.09 L1133.61 2279.97 L1136.15 2281.82 L1138.68 2283.64 L1141.21 2285.42 L1143.74 2287.16 L1146.27 2288.87 L1148.81 2290.55 L1151.34 2292.19 L1153.87 2293.8 L1156.4 2295.36 L1158.93 2296.9 L1161.47 2298.39 L1164 2299.86 L1166.53 2301.28 L1169.06 2302.67 L1171.59 2304.02 L1174.13 2305.33 L1176.66 2306.61 L1179.19 2307.85 L1181.72 2309.05 L1184.25 2310.22 L1186.79 2311.34 L1189.32 2312.43 L1191.85 2313.48 L1194.38 2314.49 L1196.92 2315.47 L1199.45 2316.4 L1201.98 2317.3 L1204.51 2318.16 L1207.04 2318.98 L1209.58 2319.75 L1212.11 2320.49 L1214.64 2321.19 L1217.17 2321.85 L1219.7 2322.47 L1222.24 2323.05 L1224.77 2323.59 L1227.3 2324.09" fill="none" stroke="#000" stroke-width="6.3" stroke-linejoin="round"/>
<path d="M217 1755.31 L219.39 1755.61 L221.78 1755.91 L224.17 1756.22 L226.56 1756.52 L228.95 1756.82 L231.35 1757.12 L233.74 1757.43 L236.13 1757.73 L238.52 1758.03 L240.91 1758.34 L243.3 1758.64 L245.69 1758.95 L247.87 1759.23 M278.06 1763.22 L279.17 1763.37 L281.56 1763.7 L283.95 1764.03 L286.34 1764.36 L288.73 1764.69 L291.12 1765.02 L293.51 1765.36 L295.9 1765.7 L298.29 1766.04 L300.68 1766.38 L303.08 1766.73 L305.47 1767.08 L307.86 1767.43 L310.25 1767.78 L310.73 1767.85 M342.23 1772.78 L343.72 1773.03 L346.11 1773.42 L348.5 1773.83 L350.89 1774.23 L353.29 1774.64 L355.68 1775.05 L358.07 1775.47 L360.46 1775.89 L362.85 1776.31 L365.24 1776.74 L367.63 1777.18 L370.02 1777.61 L372.41 1778.05 L374.74 1778.48 M405.88 1784.69 L405.89 1784.69 L408.28 1785.2 L410.67 1785.71 L413.06 1786.23 L415.45 1786.76 L417.84 1787.29 L420.23 1787.82 L422.62 1788.36 L425.02 1788.91 L427.41 1789.46 L429.8 1790.02 L432.19 1790.58 L434.58 1791.15 L436.97 1791.73 L438.06 1791.99 M470.65 1800.48 L472.83 1801.09 L475.23 1801.77 L477.62 1802.45 L480.01 1803.14 L482.4 1803.84 L484.79 1804.55 L487.18 1805.26 L489.57 1805.98 L491.96 1806.7 L494.35 1807.43 L496.74 1808.17 L499.14 1808.92 L501.53 1809.68 L502.27 1809.91 M530.22 1819.34 L530.22 1819.34 L532.61 1820.2 L535 1821.07 L537.39 1821.94 L539.78 1822.82 L542.17 1823.71 L544.56 1824.61 L546.95 1825.52 L549.35 1826.44 L551.74 1827.37 L554.13 1828.3 L556.52 1829.24 L558.91 1830.2 L561.06 1831.06 M589.43 1843.17 L589.99 1843.42 L592.38 1844.51 L594.77 1845.6 L597.17 1846.71 L599.56 1847.82 L601.95 1848.95 L604.34 1850.08 L606.73 1851.23 L609.12 1852.38 L611.51 1853.55 L613.9 1854.72 L616.29 1855.91 L618.68 1857.1 L619.22 1857.37 M645.65 1871.35 L647.38 1872.3 L649.77 1873.64 L652.16 1874.99 L654.55 1876.35 L656.94 1877.72 L659.33 1879.11 L661.72 1880.5 L664.11 1881.91 L666.5 1883.33 L668.89 1884.76 L671.29 1886.2 L673.68 1887.66 L674.17 1887.96 M696.52 1902.17 L697.59 1902.87 L699.98 1904.46 L702.37 1906.07 L704.76 1907.68 L707.15 1909.31 L709.54 1910.95 L711.93 1912.6 L714.32 1914.27 L716.71 1915.95 L719.11 1917.64 L721.5 1919.35 L723.68 1920.92 M748.09 1939.23 L750.19 1940.87 L752.58 1942.75 L754.97 1944.65 L757.36 1946.56 L759.75 1948.48 L762.14 1950.42 L764.53 1952.37 L766.92 1954.34 L769.32 1956.32 L771.71 1958.32 L773.72 1960.01 M796.78 1980.03 L798.01 1981.13 L800.4 1983.28 L802.79 1985.44 L805.18 1987.62 L807.57 1989.8 L809.96 1992 L812.35 1994.21 L814.74 1996.43 L817.14 1998.66 L819.53 2000.9 L821.07 2002.36 M842.58 2023.07 L843.44 2023.91 L845.83 2026.26 L848.22 2028.63 L850.61 2031 L853 2033.39 L855.39 2035.78 L857.78 2038.18 L860.17 2040.59 L862.56 2043.01 L864.95 2045.44 L865.91 2046.41 M881.11 2062.06 L881.69 2062.67 L884.08 2065.16 L886.47 2067.66 L888.86 2070.17 L891.26 2072.69 L893.65 2075.21 L896.04 2077.74 L898.43 2080.27 L900.82 2082.81 L903.21 2085.36 L903.82 2086.01 M923.01 2106.64 L924.73 2108.5 L927.12 2111.08 L929.51 2113.68 L931.9 2116.27 L934.29 2118.86 L936.68 2121.46 L939.08 2124.06 L941.47 2126.66 L943.86 2129.26 L945.37 2130.91 M965.69 2152.98 L967.77 2155.23 L970.16 2157.81 L972.55 2160.4 L974.94 2162.98 L977.33 2165.56 L979.72 2168.13 L982.11 2170.7 L984.5 2173.26 L986.89 2175.82 L988.15 2177.16 M1009.31 2199.48 L1010.8 2201.04 L1013.2 2203.51 L1015.59 2205.98 L1017.98 2208.44 L1020.37 2210.89 L1022.76 2213.32 L1025.15 2215.74 L1027.54 2218.16 L1029.93 2220.56 L1032.32 2222.95 L1032.42 2223.04 M1055.15 2245.05 L1056.23 2246.06 L1058.62 2248.29 L1061.02 2250.49 L1063.41 2252.69 L1065.8 2254.86 L1068.19 2257.01 L1070.58 2259.15 L1072.97 2261.27 L1075.36 2263.37 L1077.75 2265.45 L1079.69 2267.11 M1103.9 2286.79 L1104.05 2286.9 L1106.44 2288.71 L1108.83 2290.5 L1111.23 2292.26 L1113.62 2294 L1116.01 2295.71 L1118.4 2297.4 L1120.79 2299.05 L1123.18 2300.69 L1125.57 2302.29 L1127.96 2303.86 L1130.35 2305.41 L1130.89 2305.75 M1156.01 2320.14 L1156.65 2320.46 L1159.05 2321.64 L1161.44 2322.79 L1163.83 2323.9 L1166.22 2324.98 L1168.61 2326.02 L1171 2327.03" fill="none" stroke="#00ff00" stroke-width="7" stroke-linecap="butt" stroke-linejoin="round"/>
</g>
<line x1="892" y1="1425.8" x2="1031.7" y2="1425.8" stroke="#000" stroke-width="6.3"/>
<path d="M892 1500.2L926 1500.2 M957.3 1500.2L991.7 1500.2 M1024.2 1500.2L1031.7 1500.2" stroke="#00ff00" stroke-width="7" fill="none"/>
<rect x="208.2" y="2725.4" width="1196.6" height="963.5" fill="none" stroke="#000" stroke-width="3.6"/>
<line x1="189.7" y1="3688.9" x2="208.2" y2="3688.9" stroke="#000" stroke-width="3.6"/>
<line x1="1404.8" y1="3688.9" x2="1423.3" y2="3688.9" stroke="#000" stroke-width="3.6"/>
<line x1="199.2" y1="3592.55" x2="208.2" y2="3592.55" stroke="#000" stroke-width="3.6"/>
<line x1="1404.8" y1="3592.55" x2="1413.8" y2="3592.55" stroke="#000" stroke-width="3.6"/>
<line x1="189.7" y1="3496.2" x2="208.2" y2="3496.2" stroke="#000" stroke-width="3.6"/>
<line x1="1404.8" y1="3496.2" x2="1423.3" y2="3496.2" stroke="#000" stroke-width="3.6"/>
<line x1="199.2" y1="3399.85" x2="208.2" y2="3399.85" stroke="#000" stroke-width="3.6"/>
<line x1="1404.8" y1="3399.85" x2="1413.8" y2="3399.85" stroke="#000" stroke-width="3.6"/>
<line x1="189.7" y1="3303.5" x2="208.2" y2="3303.5" stroke="#000" stroke-width="3.6"/>
<line x1="1404.8" y1="3303.5" x2="1423.3" y2="3303.5" stroke="#000" stroke-width="3.6"/>
<line x1="199.2" y1="3207.15" x2="208.2" y2="3207.15" stroke="#000" stroke-width="3.6"/>
<line x1="1404.8" y1="3207.15" x2="1413.8" y2="3207.15" stroke="#000" stroke-width="3.6"/>
<line x1="189.7" y1="3110.8" x2="208.2" y2="3110.8" stroke="#000" stroke-width="3.6"/>
<line x1="1404.8" y1="3110.8" x2="1423.3" y2="3110.8" stroke="#000" stroke-width="3.6"/>
<line x1="199.2" y1="3014.45" x2="208.2" y2="3014.45" stroke="#000" stroke-width="3.6"/>
<line x1="1404.8" y1="3014.45" x2="1413.8" y2="3014.45" stroke="#000" stroke-width="3.6"/>
<line x1="189.7" y1="2918.1" x2="208.2" y2="2918.1" stroke="#000" stroke-width="3.6"/>
<line x1="1404.8" y1="2918.1" x2="1423.3" y2="2918.1" stroke="#000" stroke-width="3.6"/>
<line x1="199.2" y1="2821.75" x2="208.2" y2="2821.75" stroke="#000" stroke-width="3.6"/>
<line x1="1404.8" y1="2821.75" x2="1413.8" y2="2821.75" stroke="#000" stroke-width="3.6"/>
<line x1="189.7" y1="2725.4" x2="208.2" y2="2725.4" stroke="#000" stroke-width="3.6"/>
<line x1="1404.8" y1="2725.4" x2="1423.3" y2="2725.4" stroke="#000" stroke-width="3.6"/>
<line x1="208.2" y1="3688.9" x2="208.2" y2="3697.9" stroke="#000" stroke-width="3.6"/>
<line x1="208.2" y1="2725.4" x2="208.2" y2="2716.4" stroke="#000" stroke-width="3.6"/>
<line x1="313.16" y1="3688.9" x2="313.16" y2="3697.9" stroke="#000" stroke-width="3.6"/>
<line x1="313.16" y1="2725.4" x2="313.16" y2="2716.4" stroke="#000" stroke-width="3.6"/>
<line x1="387.93" y1="3688.9" x2="387.93" y2="3697.9" stroke="#000" stroke-width="3.6"/>
<line x1="387.93" y1="2725.4" x2="387.93" y2="2716.4" stroke="#000" stroke-width="3.6"/>
<line x1="445.93" y1="3688.9" x2="445.93" y2="3697.9" stroke="#000" stroke-width="3.6"/>
<line x1="445.93" y1="2725.4" x2="445.93" y2="2716.4" stroke="#000" stroke-width="3.6"/>
<line x1="493.32" y1="3688.9" x2="493.32" y2="3697.9" stroke="#000" stroke-width="3.6"/>
<line x1="493.32" y1="2725.4" x2="493.32" y2="2716.4" stroke="#000" stroke-width="3.6"/>
<line x1="533.39" y1="3688.9" x2="533.39" y2="3697.9" stroke="#000" stroke-width="3.6"/>
<line x1="533.39" y1="2725.4" x2="533.39" y2="2716.4" stroke="#000" stroke-width="3.6"/>
<line x1="568.1" y1="3688.9" x2="568.1" y2="3697.9" stroke="#000" stroke-width="3.6"/>
<line x1="568.1" y1="2725.4" x2="568.1" y2="2716.4" stroke="#000" stroke-width="3.6"/>
<line x1="598.71" y1="3688.9" x2="598.71" y2="3697.9" stroke="#000" stroke-width="3.6"/>
<line x1="598.71" y1="2725.4" x2="598.71" y2="2716.4" stroke="#000" stroke-width="3.6"/>
<line x1="626.1" y1="3688.9" x2="626.1" y2="3707.4" stroke="#000" stroke-width="3.6"/>
<line x1="626.1" y1="2725.4" x2="626.1" y2="2706.9" stroke="#000" stroke-width="3.6"/>
<line x1="806.27" y1="3688.9" x2="806.27" y2="3697.9" stroke="#000" stroke-width="3.6"/>
<line x1="806.27" y1="2725.4" x2="806.27" y2="2716.4" stroke="#000" stroke-width="3.6"/>
<line x1="911.66" y1="3688.9" x2="911.66" y2="3697.9" stroke="#000" stroke-width="3.6"/>
<line x1="911.66" y1="2725.4" x2="911.66" y2="2716.4" stroke="#000" stroke-width="3.6"/>
<line x1="986.43" y1="3688.9" x2="986.43" y2="3697.9" stroke="#000" stroke-width="3.6"/>
<line x1="986.43" y1="2725.4" x2="986.43" y2="2716.4" stroke="#000" stroke-width="3.6"/>
<line x1="1044.43" y1="3688.9" x2="1044.43" y2="3697.9" stroke="#000" stroke-width="3.6"/>
<line x1="1044.43" y1="2725.4" x2="1044.43" y2="2716.4" stroke="#000" stroke-width="3.6"/>
<line x1="1091.82" y1="3688.9" x2="1091.82" y2="3697.9" stroke="#000" stroke-width="3.6"/>
<line x1="1091.82" y1="2725.4" x2="1091.82" y2="2716.4" stroke="#000" stroke-width="3.6"/>
<line x1="1131.89" y1="3688.9" x2="1131.89" y2="3697.9" stroke="#000" stroke-width="3.6"/>
<line x1="1131.89" y1="2725.4" x2="1131.89" y2="2716.4" stroke="#000" stroke-width="3.6"/>
<line x1="1166.6" y1="3688.9" x2="1166.6" y2="3697.9" stroke="#000" stroke-width="3.6"/>
<line x1="1166.6" y1="2725.4" x2="1166.6" y2="2716.4" stroke="#000" stroke-width="3.6"/>
<line x1="1197.21" y1="3688.9" x2="1197.21" y2="3697.9" stroke="#000" stroke-width="3.6"/>
<line x1="1197.21" y1="2725.4" x2="1197.21" y2="2716.4" stroke="#000" stroke-width="3.6"/>
<line x1="1224.6" y1="3688.9" x2="1224.6" y2="3707.4" stroke="#000" stroke-width="3.6"/>
<line x1="1224.6" y1="2725.4" x2="1224.6" y2="2706.9" stroke="#000" stroke-width="3.6"/>
<line x1="1404.8" y1="3688.9" x2="1404.8" y2="3697.9" stroke="#000" stroke-width="3.6"/>
<line x1="1404.8" y1="2725.4" x2="1404.8" y2="2716.4" stroke="#000" stroke-width="3.6"/>
<clipPath id="p16"><rect x="208.2" y="2725.4" width="1196.6" height="963.5"/></clipPath>
<g clip-path="url(#p16)">
<path d="M209.3 3136.67 L211.76 3136.92 L214.22 3137.18 L216.68 3137.44 L219.14 3137.69 L221.6 3137.95 L224.06 3138.21 L226.52 3138.47 L228.98 3138.73 L231.44 3138.99 L233.9 3139.26 L236.36 3139.52 L238.82 3139.79 L241.29 3140.06 L243.75 3140.33 L246.21 3140.6 L248.67 3140.87 L251.13 3141.14 L253.59 3141.42 L256.05 3141.7 L258.51 3141.98 L260.97 3142.26 L263.43 3142.54 L265.89 3142.82 L268.35 3143.11 L270.81 3143.4 L273.27 3143.69 L275.73 3143.98 L278.19 3144.28 L280.65 3144.57 L283.11 3144.87 L285.57 3145.18 L288.03 3145.48 L290.49 3145.79 L292.95 3146.1 L295.41 3146.41 L297.87 3146.72 L300.33 3147.04 L302.8 3147.36 L305.26 3147.68 L307.72 3148.01 L310.18 3148.34 L312.64 3148.67 L315.1 3149 L317.56 3149.34 L320.02 3149.68 L322.48 3150.02 L324.94 3150.37 L327.4 3150.72 L329.86 3151.07 L332.32 3151.43 L334.78 3151.79 L337.24 3152.15 L339.7 3152.52 L342.16 3152.89 L344.62 3153.26 L347.08 3153.64 L349.54 3154.02 L352 3154.41 L354.46 3154.79 L356.92 3155.19 L359.38 3155.58 L361.84 3155.98 L364.31 3156.39 L366.77 3156.8 L369.23 3157.21 L371.69 3157.63 L374.15 3158.05 L376.61 3158.47 L379.07 3158.9 L381.53 3159.34 L383.99 3159.78 L386.45 3160.22 L388.91 3160.67 L391.37 3161.12 L393.83 3161.58 L396.29 3162.04 L398.75 3162.5 L401.21 3162.97 L403.67 3163.45 L406.13 3163.93 L408.59 3164.42 L411.05 3164.91 L413.51 3165.4 L415.97 3165.91 L418.43 3166.41 L420.89 3166.92 L423.35 3167.44 L425.82 3167.96 L428.28 3168.49 L430.74 3169.02 L433.2 3169.56 L435.66 3170.1 L438.12 3170.65 L440.58 3171.21 L443.04 3171.77 L445.5 3172.34 L447.96 3172.91 L450.42 3173.49 L452.88 3174.07 L455.34 3174.66 L457.8 3175.26 L460.26 3175.86 L462.72 3176.47 L465.18 3177.08 L467.64 3177.7 L470.1 3178.33 L472.56 3178.96 L475.02 3179.6 L477.48 3180.25 L479.94 3180.9 L482.4 3181.56 L484.86 3182.23 L487.33 3182.9 L489.79 3183.58 L492.25 3184.27 L494.71 3184.96 L497.17 3185.66 L499.63 3186.36 L502.09 3187.08 L504.55 3187.8 L507.01 3188.53 L509.47 3189.26 L511.93 3190 L514.39 3190.75 L516.85 3191.51 L519.31 3192.27 L521.77 3193.04 L524.23 3193.82 L526.69 3194.61 L529.15 3195.4 L531.61 3196.2 L534.07 3197.01 L536.53 3197.83 L538.99 3198.65 L541.45 3199.48 L543.91 3200.32 L546.37 3201.17 L548.84 3202.02 L551.3 3202.89 L553.76 3203.76 L556.22 3204.64 L558.68 3205.53 L561.14 3206.42 L563.6 3207.33 L566.06 3208.24 L568.52 3209.16 L570.98 3210.09 L573.44 3211.03 L575.9 3211.97 L578.36 3212.93 L580.82 3213.89 L583.28 3214.87 L585.74 3215.85 L588.2 3216.84 L590.66 3217.84 L593.12 3218.84 L595.58 3219.86 L598.04 3220.89 L600.5 3221.92 L602.96 3222.96 L605.42 3224.02 L607.88 3225.08 L610.35 3226.15 L612.81 3227.23 L615.27 3228.32 L617.73 3229.42 L620.19 3230.53 L622.65 3231.65 L625.11 3232.78 L627.57 3233.91 L630.03 3235.06 L632.49 3236.22 L634.95 3237.39 L637.41 3238.56 L639.87 3239.75 L642.33 3240.95 L644.79 3242.15 L647.25 3243.37 L649.71 3244.6 L652.17 3245.83 L654.63 3247.08 L657.09 3248.34 L659.55 3249.6 L662.01 3250.88 L664.47 3252.17 L666.93 3253.47 L669.39 3254.78 L671.86 3256.1 L674.32 3257.43 L676.78 3258.77 L679.24 3260.12 L681.7 3261.49 L684.16 3262.86 L686.62 3264.25 L689.08 3265.64 L691.54 3267.05 L694 3268.46 L696.46 3269.89 L698.92 3271.33 L701.38 3272.78 L703.84 3274.25 L706.3 3275.72 L708.76 3277.21 L711.22 3278.7 L713.68 3280.21 L716.14 3281.73 L718.6 3283.26 L721.06 3284.8 L723.52 3286.36 L725.98 3287.92 L728.44 3289.5 L730.91 3291.09 L733.37 3292.69 L735.83 3294.3 L738.29 3295.93 L740.75 3297.57 L743.21 3299.22 L745.67 3300.88 L748.13 3302.55 L750.59 3304.24 L753.05 3305.94 L755.51 3307.65 L757.97 3309.38 L760.43 3311.12 L762.89 3312.87 L765.35 3314.64 L767.81 3316.42 L770.27 3318.21 L772.73 3320.02 L775.19 3321.85 L777.65 3323.69 L780.11 3325.54 L782.57 3327.41 L785.03 3329.29 L787.49 3331.19 L789.95 3333.1 L792.42 3335.03 L794.88 3336.98 L797.34 3338.94 L799.8 3340.92 L802.26 3342.91 L804.72 3344.92 L807.18 3346.95 L809.64 3348.99 L812.1 3351.05 L814.56 3353.13 L817.02 3355.23 L819.48 3357.34 L821.94 3359.47 L824.4 3361.62 L826.86 3363.79 L829.32 3365.97 L831.78 3368.18 L834.24 3370.4 L836.7 3372.64 L839.16 3374.9 L841.62 3377.18 L844.08 3379.48 L846.54 3381.8 L849 3384.14 L851.46 3386.5 L853.93 3388.88 L856.39 3391.28 L858.85 3393.69 L861.31 3396.13 L863.77 3398.59 L866.23 3401.08 L868.69 3403.58 L871.15 3406.1 L873.61 3408.65 L876.07 3411.21 L878.53 3413.8 L880.99 3416.4 L883.45 3419.02 L885.91 3421.67 L888.37 3424.32 L890.83 3427 L893.29 3429.68 L895.75 3432.39 L898.21 3435.1 L900.67 3437.83 L903.13 3440.58 L905.59 3443.33 L908.05 3446.09 L910.51 3448.87 L912.97 3451.65 L915.44 3454.44 L917.9 3457.24 L920.36 3460.05 L922.82 3462.86 L925.28 3465.68 L927.74 3468.5 L930.2 3471.33 L932.66 3474.16 L935.12 3476.99 L937.58 3479.83 L940.04 3482.66 L942.5 3485.5 L944.96 3488.33 L947.42 3491.16 L949.88 3493.99 L952.34 3496.82 L954.8 3499.64 L957.26 3502.46 L959.72 3505.28 L962.18 3508.08 L964.64 3510.89 L967.1 3513.68 L969.56 3516.46 L972.02 3519.24 L974.48 3522.01 L976.95 3524.76 L979.41 3527.51 L981.87 3530.24 L984.33 3532.96 L986.79 3535.67 L989.25 3538.36 L991.71 3541.04 L994.17 3543.7 L996.63 3546.34 L999.09 3548.97 L1001.55 3551.58 L1004.01 3554.17 L1006.47 3556.73 L1008.93 3559.28 L1011.39 3561.81 L1013.85 3564.32 L1016.31 3566.8 L1018.77 3569.27 L1021.23 3571.71 L1023.69 3574.12 L1026.15 3576.52 L1028.61 3578.89 L1031.07 3581.24 L1033.53 3583.57 L1035.99 3585.87 L1038.46 3588.15 L1040.92 3590.4 L1043.38 3592.63 L1045.84 3594.84 L1048.3 3597.02 L1050.76 3599.18 L1053.22 3601.31 L1055.68 3603.41 L1058.14 3605.49 L1060.6 3607.55 L1063.06 3609.58 L1065.52 3611.58 L1067.98 3613.56 L1070.44 3615.51 L1072.9 3617.43 L1075.36 3619.33 L1077.82 3621.19 L1080.28 3623.04 L1082.74 3624.85 L1085.2 3626.64 L1087.66 3628.39 L1090.12 3630.12 L1092.58 3631.83 L1095.04 3633.5 L1097.5 3635.14 L1099.97 3636.76 L1102.43 3638.34 L1104.89 3639.9 L1107.35 3641.43 L1109.81 3642.92 L1112.27 3644.39 L1114.73 3645.82 L1117.19 3647.23 L1119.65 3648.6 L1122.11 3649.95 L1124.57 3651.26 L1127.03 3652.54 L1129.49 3653.79 L1131.95 3655.01 L1134.41 3656.19 L1136.87 3657.35 L1139.33 3658.47 L1141.79 3659.55 L1144.25 3660.61 L1146.71 3661.63 L1149.17 3662.62 L1151.63 3663.58 L1154.09 3664.5 L1156.55 3665.38 L1159.01 3666.24 L1161.48 3667.06 L1163.94 3667.84 L1166.4 3668.59 L1168.86 3669.3 L1171.32 3669.98 L1173.78 3670.63 L1176.24 3671.23 L1178.7 3671.81 L1181.16 3672.34 L1183.62 3672.84 L1186.08 3673.31 L1188.54 3673.73 L1191 3674.12 L1219.2 3675.9 L1222.7 3678.2 L1225.2 3683 L1226 3689" fill="none" stroke="#000" stroke-width="6.3" stroke-linejoin="round"/>
<path d="M209 3280.83 L211.42 3281.08 L213.85 3281.33 L216.27 3281.57 L218.69 3281.81 L221.12 3282.05 L223.54 3282.29 L225.96 3282.52 L228.39 3282.75 L230.81 3282.97 L233.24 3283.19 L235.66 3283.41 L238.08 3283.63 L238.43 3283.66 M270.95 3286.34 L272.01 3286.42 L274.44 3286.61 L276.86 3286.79 L279.28 3286.97 L281.71 3287.15 L284.13 3287.33 L286.55 3287.51 L288.98 3287.69 L291.4 3287.87 L293.82 3288.04 L296.25 3288.22 L298.67 3288.39 L301.1 3288.56 L303.52 3288.73 L303.86 3288.76 M336.54 3291.07 L337.45 3291.13 L339.87 3291.3 L342.3 3291.48 L344.72 3291.65 L347.14 3291.83 L349.57 3292 L351.99 3292.18 L354.41 3292.36 L356.84 3292.54 L359.26 3292.72 L361.68 3292.9 L364.11 3293.08 L366.53 3293.27 L368.95 3293.45 L369.45 3293.49 M401.57 3296.15 L402.88 3296.26 L405.31 3296.48 L407.73 3296.7 L410.16 3296.93 L412.58 3297.16 L415 3297.39 L417.43 3297.62 L419.85 3297.86 L422.27 3298.1 L424.7 3298.34 L427.12 3298.59 L429.54 3298.84 L431.97 3299.09 L434.39 3299.35 L434.41 3299.35 M465.35 3303.01 L465.9 3303.08 L468.32 3303.4 L470.74 3303.72 L473.17 3304.05 L475.59 3304.38 L478.02 3304.72 L480.44 3305.06 L482.86 3305.41 L485.29 3305.77 L487.71 3306.13 L490.13 3306.49 L492.56 3306.86 L494.98 3307.24 L497.4 3307.62 L498.01 3307.72 M530.64 3313.49 L531.33 3313.63 L533.76 3314.11 L536.18 3314.59 L538.6 3315.08 L541.03 3315.58 L543.45 3316.09 L545.87 3316.61 L548.3 3317.13 L550.72 3317.66 L553.15 3318.2 L555.57 3318.74 L557.99 3319.29 L560.42 3319.85 L562.84 3320.42 L562.9 3320.44 M596.49 3329.18 L596.77 3329.26 L599.19 3329.96 L601.62 3330.66 L604.04 3331.38 L606.46 3332.1 L608.89 3332.84 L611.31 3333.58 L613.73 3334.34 L616.16 3335.1 L618.58 3335.87 L621.01 3336.66 L623.43 3337.45 L625.85 3338.25 L628 3338.97 M657.81 3349.82 L659.78 3350.59 L662.21 3351.55 L664.63 3352.53 L667.05 3353.51 L669.48 3354.51 L671.9 3355.52 L674.32 3356.54 L676.75 3357.57 L679.17 3358.61 L681.59 3359.67 L684.02 3360.74 L686.44 3361.81 L688.22 3362.62 M714.18 3375.05 L715.52 3375.73 L717.95 3376.97 L720.37 3378.23 L722.79 3379.5 L725.22 3380.78 L727.64 3382.08 L730.07 3383.39 L732.49 3384.71 L734.91 3386.04 L737.34 3387.39 L739.76 3388.76 L742.18 3390.13 L743.22 3390.73 M768.96 3406.24 L771.27 3407.71 L773.69 3409.26 L776.11 3410.82 L778.54 3412.4 L780.96 3414 L783.38 3415.6 L785.81 3417.22 L788.23 3418.85 L790.65 3420.5 L793.08 3422.16 L795.5 3423.84 L796.44 3424.49 M817.76 3439.84 L819.74 3441.32 L822.16 3443.14 L824.58 3444.98 L827.01 3446.83 L829.43 3448.69 L831.85 3450.57 L834.28 3452.46 L836.7 3454.36 L839.13 3456.28 L841.55 3458.21 L843.85 3460.05 M868.1 3480.25 L868.21 3480.34 L870.63 3482.44 L873.06 3484.55 L875.48 3486.67 L877.9 3488.8 L880.33 3490.95 L882.75 3493.11 L885.17 3495.29 L887.6 3497.47 L890.02 3499.68 L892.44 3501.89 L894.87 3504.12 L897.29 3506.36 L899.71 3508.61 L902.14 3510.88 L904.56 3513.15 L906.98 3515.44 L909.41 3517.73 L911.83 3520.03 L911.9 3520.09 M934.15 3541.48 L936.07 3543.34 L938.49 3545.68 L940.91 3548.03 L943.34 3550.38 L945.76 3552.72 L948.19 3555.07 L950.61 3557.41 L953.03 3559.75 L955.46 3562.08 L957.88 3564.41 M978.26 3583.74 L979.69 3585.07 L982.12 3587.32 L984.54 3589.56 L986.96 3591.78 L989.39 3594 L991.81 3596.19 L994.23 3598.38 L996.66 3600.55 L999.08 3602.7 L1001.5 3604.84 L1002.71 3605.9 M1026.95 3626.21 L1028.16 3627.18 L1030.59 3629.09 L1033.01 3630.99 L1035.43 3632.85 L1037.86 3634.7 L1040.28 3636.52 L1042.7 3638.32 L1045.13 3640.1 L1047.55 3641.85 L1049.97 3643.58 L1052.4 3645.28 L1053.39 3645.96 M1084.62 3665.24 L1086.33 3666.16 L1088.75 3667.42 L1091.18 3668.65 L1093.6 3669.85 L1096.02 3671.01 L1098.45 3672.14 L1100.87 3673.24 L1103.29 3674.3 L1105.72 3675.32 L1108.14 3676.31 L1110.56 3677.26 L1112.99 3678.18 L1114.68 3678.79 M1145.76 3686.67 L1146.92 3686.84 L1149.34 3687.14 L1151.76 3687.4 L1154.19 3687.61 L1156.61 3687.78 L1159.04 3687.91 L1161.46 3687.99 L1163.88 3688.02 L1166.31 3688 L1168.73 3687.94 L1171.15 3687.82 L1173.58 3687.66 L1176 3687.45" fill="none" stroke="#00ff00" stroke-width="7" stroke-linecap="butt" stroke-linejoin="round"/>
</g>
<line x1="867.5" y1="2786.7" x2="1006.2" y2="2786.7" stroke="#000" stroke-width="6.3"/>
<path d="M867.5 2861.2L901.5 2861.2 M932.8 2861.2L967.2 2861.2 M998.7 2861.2L1006.2 2861.2" stroke="#00ff00" stroke-width="7" fill="none"/>
<text transform="translate(391.5,141.8) scale(1.02878,0.99074)" font-size="54" font-weight="bold" fill="#000">OPC</text>
<text transform="translate(391.54,208.3) scale(1.01186,0.99074)" font-size="54" font-weight="bold" fill="#000">OPC-GO</text>
<text transform="translate(185.72,973.2) scale(0.99074,0.99074)" font-size="54" font-weight="bold" fill="#000">0</text>
<text transform="translate(158.97,753.45) scale(0.99074,0.99074)" font-size="54" font-weight="bold" fill="#000">10</text>
<text transform="translate(158.97,533.7) scale(0.99074,0.99074)" font-size="54" font-weight="bold" fill="#000">20</text>
<text transform="translate(158.97,313.95) scale(0.99074,0.99074)" font-size="54" font-weight="bold" fill="#000">30</text>
<text transform="translate(158.97,94.2) scale(0.99074,0.99074)" font-size="54" font-weight="bold" fill="#000">40</text>
<text transform="translate(318.4,1028.9) scale(0.99074,0.99074)" font-size="54" font-weight="bold" fill="#000">1</text>
<text transform="translate(501.05,1028.9) scale(0.99074,0.99074)" font-size="54" font-weight="bold" fill="#000">3</text>
<text transform="translate(682.03,1028.9) scale(0.99074,0.99074)" font-size="54" font-weight="bold" fill="#000">7</text>
<text transform="translate(849.64,1028.9) scale(0.99074,0.99074)" font-size="54" font-weight="bold" fill="#000">14</text>
<text transform="translate(1033.12,1028.9) scale(0.99074,0.99074)" font-size="54" font-weight="bold" fill="#000">28</text>
<text transform="translate(1214.52,1028.9) scale(0.99074,0.99074)" font-size="54" font-weight="bold" fill="#000">56</text>
<text transform="translate(491.89,1122.4) scale(0.97178,1.00000)" font-size="77" font-weight="bold" fill="#000">Curing Age</text>
<text transform="translate(881.44,1122.47) scale(1.13778,1.00783)" font-size="55" font-weight="bold" fill="#000">(</text>
<text transform="translate(901.63,1122.4) scale(0.96831,1.00000)" font-size="77" font-weight="bold" fill="#000">Days</text>
<text transform="translate(1057.83,1122.05) scale(1.05015,1.00672)" font-size="57" font-weight="bold" fill="#000">)</text>
<text transform="translate(99.3,1015.17) rotate(-90) scale(0.98842,1.00000)" font-size="76" font-weight="bold" fill="#000">Porosity of Cement Paste</text>
<text transform="translate(99.11,136.2) rotate(-90) scale(1.03806,1.00096)" font-size="76" font-weight="bold" fill="#000">%</text>
<text transform="translate(672.81,1279.36) scale(0.83386,0.99822)" font-size="84" font-weight="normal" fill="#000">(</text>
<text transform="translate(698.73,1278.42) scale(0.96520,1.00000)" font-size="82" font-weight="bold" fill="#000">a</text>
<text transform="translate(739.91,1279.36) scale(0.87395,0.99822)" font-size="84" font-weight="normal" fill="#000">)</text>
<text transform="translate(1040.8,1445.5) scale(1.06711,1.00893)" font-size="56" font-weight="bold" fill="#000">OPC</text>
<text transform="translate(1040.82,1519) scale(1.05749,1.00893)" font-size="56" font-weight="bold" fill="#000">OPC-GO</text>
<text transform="translate(154.84,2346.2) scale(1.00000,1.00000)" font-size="59" font-weight="bold" fill="#000">0</text>
<text transform="translate(154.84,2154.8) scale(1.00000,1.00000)" font-size="59" font-weight="bold" fill="#000">5</text>
<text transform="translate(125.34,1963.4) scale(1.00000,1.00000)" font-size="59" font-weight="bold" fill="#000">10</text>
<text transform="translate(125.34,1772) scale(1.00000,1.00000)" font-size="59" font-weight="bold" fill="#000">15</text>
<text transform="translate(125.34,1580.6) scale(1.00000,1.00000)" font-size="59" font-weight="bold" fill="#000">20</text>
<text transform="translate(125.34,1389.2) scale(1.00000,1.00000)" font-size="59" font-weight="bold" fill="#000">25</text>
<text transform="translate(616.33,2404.9) scale(1.00000,1.00000)" font-size="59" font-weight="bold" fill="#000">1</text>
<text transform="translate(1192.62,2405.5) scale(1.00000,1.00000)" font-size="59" font-weight="bold" fill="#000">10</text>
<text transform="translate(467.12,2500.2) scale(0.98519,1.00000)" font-size="83" font-weight="bold" fill="#000">Pore diameter</text>
<text transform="translate(997.22,2490.83) scale(1.00366,1.00511)" font-size="79" font-weight="normal" fill="#000">(</text>
<text transform="translate(1029.6,2498.99) scale(0.94065,1.00161)" font-size="79" font-weight="bold" fill="#000">μ</text>
<text transform="translate(1072.25,2499.5) scale(0.62018,1.00545)" font-size="77" font-weight="bold" fill="#000">m</text>
<text transform="translate(1113.83,2490.83) scale(1.00074,1.00511)" font-size="79" font-weight="normal" fill="#000">)</text>
<text transform="translate(97.42,2293.52) rotate(-90) scale(1.03058,0.99412)" font-size="79" font-weight="bold" fill="#000">Cumulative porosity</text>
<text transform="translate(97.42,1540.22) rotate(-90) scale(1.02065,0.99412)" font-size="79" font-weight="bold" fill="#000">(%)</text>
<text transform="translate(667.71,2637.15) scale(0.84391,1.00502)" font-size="83" font-weight="normal" fill="#000">(</text>
<text transform="translate(694.4,2637.44) scale(1.01651,1.00110)" font-size="87" font-weight="bold" fill="#000">b</text>
<text transform="translate(744.45,2637.15) scale(0.90716,1.00502)" font-size="83" font-weight="normal" fill="#000">)</text>
<text transform="translate(1018.1,2806.4) scale(1.03032,0.99138)" font-size="58" font-weight="bold" fill="#000">OPC</text>
<text transform="translate(1018.11,2880.3) scale(1.02500,0.99138)" font-size="58" font-weight="bold" fill="#000">OPC-GO</text>
<text transform="translate(145.88,3706.6) scale(1.00000,1.00000)" font-size="60" font-weight="bold" fill="#000">0</text>
<text transform="translate(145.88,3513.9) scale(1.00000,1.00000)" font-size="60" font-weight="bold" fill="#000">5</text>
<text transform="translate(115.88,3321.2) scale(1.00000,1.00000)" font-size="60" font-weight="bold" fill="#000">10</text>
<text transform="translate(115.88,3128.5) scale(1.00000,1.00000)" font-size="60" font-weight="bold" fill="#000">15</text>
<text transform="translate(115.88,2935.8) scale(1.00000,1.00000)" font-size="60" font-weight="bold" fill="#000">20</text>
<text transform="translate(115.88,2743.1) scale(1.00000,1.00000)" font-size="60" font-weight="bold" fill="#000">25</text>
<text transform="translate(610.16,3767.2) scale(1.00000,1.00000)" font-size="60" font-weight="bold" fill="#000">1</text>
<text transform="translate(1194.89,3767.1) scale(1.00000,1.00000)" font-size="60" font-weight="bold" fill="#000">10</text>
<text transform="translate(460.71,3862) scale(0.99440,0.99518)" font-size="83" font-weight="bold" fill="#000">Pore diameter (μm)</text>
<text transform="translate(88.29,3653.44) rotate(-90) scale(1.02388,1.00068)" font-size="80" font-weight="bold" fill="#000">Cumulative porosity</text>
<text transform="translate(88.07,2895.15) rotate(-90) scale(1.03094,0.99687)" font-size="79" font-weight="bold" fill="#000">(%)</text>
<text transform="translate(674.57,3996.18) scale(0.85079,0.99693)" font-size="84" font-weight="normal" fill="#000">(</text>
<text transform="translate(701.06,3996.97) scale(0.95774,1.00471)" font-size="85" font-weight="bold" fill="#000">c</text>
<text transform="translate(737.59,3996.18) scale(0.91877,0.99693)" font-size="84" font-weight="normal" fill="#000">)</text>
</svg>
</body></html>
